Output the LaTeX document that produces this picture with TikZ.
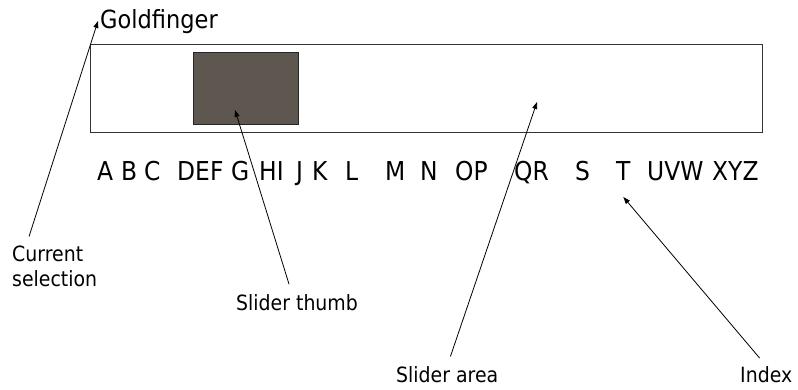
\documentclass[tikz,border=0pt]{standalone}
\usepackage{fontspec}
\setmainfont{DejaVu Sans}[FakeStretch=0.9]
\usetikzlibrary{arrows.meta}
\definecolor{thumbgray}{RGB}{94,87,79}
\tikzset{
  callout/.style={-{Triangle[length=7pt,width=5pt]}, line width=0.8pt, shorten <=10pt},
  letter/.style={anchor=base west, inner sep=0pt, font=\fontsize{26}{30}\selectfont},
  note/.style={anchor=base west, inner sep=0pt, font=\fontsize{21}{25}\selectfont}
}
\begin{document}
\begin{tikzpicture}[x=1pt, y=-1pt]
\useasboundingbox (0,0) rectangle (798,389);

% slider
\node[draw=black!80, line width=1pt, anchor=north west, inner sep=0pt,
  minimum width=672pt, minimum height=88pt] (area) at (90,44) {};
\node[draw=black!85, fill=thumbgray, line width=1pt, anchor=north west, inner sep=0pt,
  minimum width=105pt, minimum height=72pt] (thumb) at (193,52) {};
\node[anchor=base west, inner sep=0pt, font=\fontsize{25}{30}\selectfont] (gold) at (100,28) {Goldfinger};

% index letters
\foreach \g/\x in {A/97,B/121,C/144,DEF/177,G/231,HI/259,J/296,K/312,L/345,M/385,
  N/420,OP/455,QR/514,S/575,T/616,UVW/647,XYZ/712}
  \node[letter] (\g) at (\x,180) {\g};

% labels
\node[note, anchor=north west, align=left] (cur) at (12,246) {Current\\selection};
\node[note] (thumbnote) at (236,310) {Slider thumb};
\node[note] (areanote) at (396,382) {Slider area};
\node[note] (indexnote) at (740,382) {Index};

\coordinate (thumbpt) at (235,110);
\coordinate (areapt) at (537,102);

\draw[callout] ([xshift=14pt]cur.north west) -- ([shift={(-2,-7)}]gold.base west);
\draw[callout] ([xshift=-5pt]thumbnote.north) -- (thumbpt);
\draw[callout] (areanote.north) -- (areapt);
\draw[callout] (indexnote.north) -- ([yshift=-17pt]T.base);
\end{tikzpicture}
\end{document}
